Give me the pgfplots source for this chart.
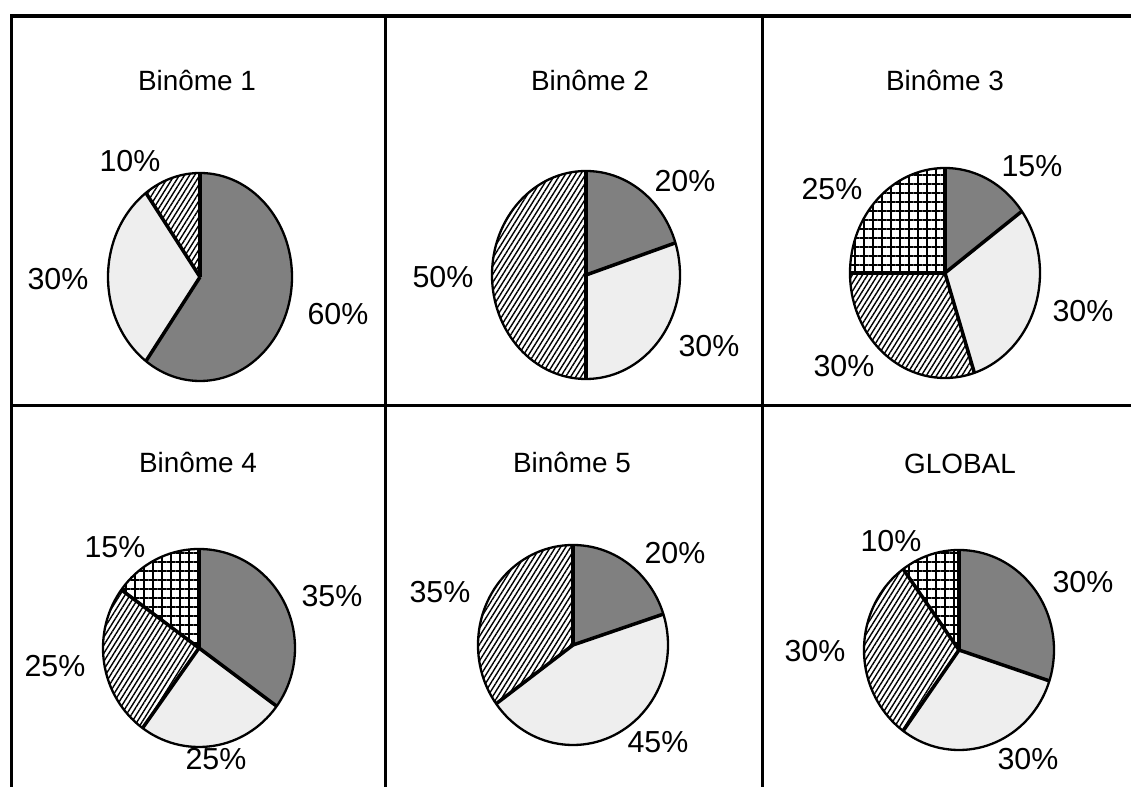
\documentclass[border=0pt]{standalone}
\usepackage{fontspec}
\setmainfont{Liberation Sans}
\usepackage{pgfplots}
\usepackage{pgfplotstable}
\pgfplotsset{compat=1.18}
\usetikzlibrary{patterns.meta}

\definecolor{slicedark}{HTML}{808080}
\definecolor{slicelight}{HTML}{EEEEEE}

% one table per pie: share in %, fill category
\pgfplotstableread{
value cat
60 c1
30 c2
10 c3
}\pieA
\pgfplotstableread{
value cat
20 c1
30 c2
50 c3
}\pieB
\pgfplotstableread{
value cat
15 c1
30 c2
30 c3
25 c4
}\pieC
\pgfplotstableread{
value cat
35 c1
25 c2
25 c3
15 c4
}\pieD
\pgfplotstableread{
value cat
20 c1
45 c2
35 c3
}\pieE
\pgfplotstableread{
value cat
30 c1
30 c2
30 c3
10 c4
}\pieF

\tikzset{
  c1/.style={fill=slicedark},
  c2/.style={fill=slicelight},
  c3/.style={preaction={fill=white},pattern={Lines[angle=58,distance=4.3bp,line width=1.4bp]}},
  c4/.style={preaction={fill=white},pattern={Hatch[angle=0,distance=9bp,line width=2.3bp]}},
}

% #1 table, #2 cx, #3 cy, #4 rx, #5 ry (axis units = bp)
\newcommand\drawpie[5]{%
  \pgfplotstablegetrowsof{#1}\pgfmathtruncatemacro\lastrow{\pgfplotsretval-1}%
  \def\cum{90}%
  \pgfplotsforeachungrouped \i in {0,...,\lastrow}{%
    \pgfplotstablegetelem{\i}{value}\of{#1}\let\val\pgfplotsretval
    \pgfplotstablegetelem{\i}{cat}\of{#1}\let\cat\pgfplotsretval
    \pgfmathsetmacro\endang{\cum-3.6*\val}%
    \pgfmathsetmacro\sx{#2+#4*cos(\cum)}%
    \pgfmathsetmacro\sy{#3+#5*sin(\cum)}%
    \edef\temp{\noexpand\fill[\cat] (#2,#3) -- (\sx,\sy)
      arc[start angle=\cum, end angle=\endang, x radius=#4bp, y radius=#5bp] -- cycle;}%
    \temp
    \let\cum\endang
  }%
  \def\cum{90}%
  \pgfplotsforeachungrouped \i in {0,...,\lastrow}{%
    \pgfplotstablegetelem{\i}{value}\of{#1}\let\val\pgfplotsretval
    \pgfmathsetmacro\sx{#2+#4*cos(\cum)}%
    \pgfmathsetmacro\sy{#3+#5*sin(\cum)}%
    \edef\temp{\noexpand\draw[line width=3.5bp] (#2,#3) -- (\sx,\sy);}%
    \temp
    \pgfmathsetmacro\cum{\cum-3.6*\val}%
  }%
  \draw[line width=2.3bp] (#2,#3) ellipse [x radius=#4bp, y radius=#5bp];%
}

\newcommand\ttl{\fontsize{28}{30}\selectfont}
\newcommand\pct{\fontsize{30.5}{32}\selectfont}

\begin{document}
\begin{tikzpicture}
\begin{axis}[
  x=1bp, y=1bp,
  xmin=0, xmax=1131, ymin=0, ymax=787,
  hide axis, clip=false,
]
  \fill[white] (0,0) rectangle (1131,787);
  \coordinate (SW) at (0,0);
  \coordinate (NE) at (1131,787);

  % frame
  \draw[line width=4bp] (10,771) -- (1131,771);
  \draw[line width=3.4bp] (11.7,0) -- (11.7,772.5);
  \draw[line width=2.5bp] (385.5,0) -- (385.5,771);
  \draw[line width=2.5bp] (762.5,0) -- (762.5,771);
  \draw[line width=2.2bp] (11,381.5) -- (1131,381.5);

  \drawpie{\pieA}{200}{510}{92}{104}
  \drawpie{\pieB}{586}{512}{94}{104}
  \drawpie{\pieC}{945}{514}{95}{105}
  \drawpie{\pieD}{199}{139}{96}{99}
  \drawpie{\pieE}{573}{142}{95}{100}
  \drawpie{\pieF}{959}{137}{95}{100}

  % titles
  \node[anchor=base,font=\ttl] at (197,696) {Binôme 1};
  \node[anchor=base,font=\ttl] at (590,696) {Binôme 2};
  \node[anchor=base,font=\ttl] at (945,696) {Binôme 3};
  \node[anchor=base,font=\ttl] at (198,314) {Binôme 4};
  \node[anchor=base,font=\ttl] at (572,314) {Binôme 5};
  \node[anchor=base,font=\ttl] at (960,313) {GLOBAL};

  % slice labels
  \node[anchor=base,font=\pct] at (130,615) {10\%};
  \node[anchor=base,font=\pct] at (58,497) {30\%};
  \node[anchor=base,font=\pct] at (338,462) {60\%};

  \node[anchor=base,font=\pct] at (685,595) {20\%};
  \node[anchor=base,font=\pct] at (443,499) {50\%};
  \node[anchor=base,font=\pct] at (709,430) {30\%};

  \node[anchor=base,font=\pct] at (1032,610) {15\%};
  \node[anchor=base,font=\pct] at (832,587) {25\%};
  \node[anchor=base,font=\pct] at (1083,465) {30\%};
  \node[anchor=base,font=\pct] at (844,410) {30\%};

  \node[anchor=base,font=\pct] at (115,229) {15\%};
  \node[anchor=base,font=\pct] at (332,180) {35\%};
  \node[anchor=base,font=\pct] at (55,110) {25\%};
  \node[anchor=base,font=\pct] at (216,17) {25\%};

  \node[anchor=base,font=\pct] at (675,223) {20\%};
  \node[anchor=base,font=\pct] at (440,184) {35\%};
  \node[anchor=base,font=\pct] at (658,34) {45\%};

  \node[anchor=base,font=\pct] at (891,235) {10\%};
  \node[anchor=base,font=\pct] at (1083,194) {30\%};
  \node[anchor=base,font=\pct] at (815,125) {30\%};
  \node[anchor=base,font=\pct] at (1028,17) {30\%};
\end{axis}
\pgfresetboundingbox
\path[use as bounding box] (SW) rectangle (NE);
\end{tikzpicture}
\end{document}
